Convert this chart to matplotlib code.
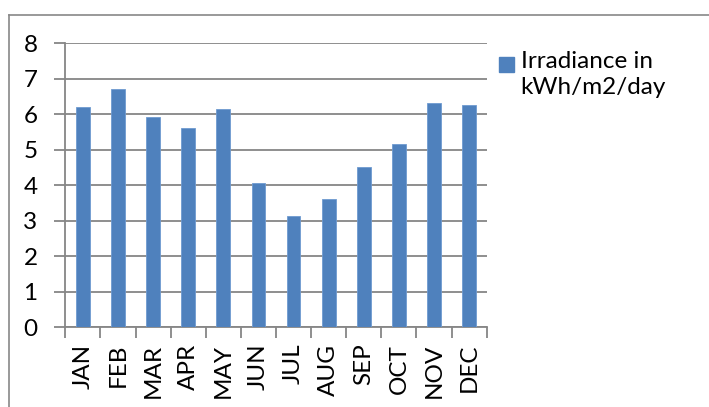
import matplotlib
matplotlib.use("Agg")
import matplotlib.pyplot as plt
from matplotlib.lines import Line2D

months = ["JAN", "FEB", "MAR", "APR", "MAY", "JUN", "JUL", "AUG", "SEP", "OCT", "NOV", "DEC"]
irradiance = [6.19, 6.72, 5.92, 5.61, 6.16, 4.05, 3.14, 3.60, 4.51, 5.17, 6.33, 6.27]
series_label = "Irradiance in\nkWh/m2/day"
yticks = [0, 1, 2, 3, 4, 5, 6, 7, 8]

plt.rcParams['font.family'] = ['Lato', 'DejaVu Sans']
W, H = 709, 407
fig = plt.figure(figsize=(W / 100, H / 100), dpi=100)
left, right, top, bottom = 65.3, 486.7, 43.3, 327.0
ax = fig.add_axes([left / W, 1 - bottom / H, (right - left) / W, (bottom - top) / H])

grid_c = "#868686"
bar_c = "#4F81BD"
fs = 17.5
x = list(range(len(months)))
ax.bar(x, irradiance, width=0.39, color=bar_c, edgecolor="#6F9AD0", linewidth=0.6, zorder=3,
       label=series_label)
ax.set_xlim(-0.5, len(months) - 0.5)
ax.set_ylim(0, 8)
ax.set_yticks(yticks)
ax.yaxis.grid(True, color=grid_c, linewidth=1.3, zorder=0)
ax.set_xticks(x)
ax.set_xticklabels(months, rotation=90, fontsize=fs)
ax.tick_params(axis='x', length=0, pad=12)
ax.set_xticks([i - 0.5 for i in range(len(months) + 1)], minor=True)
ax.tick_params(axis='x', which='minor', length=8, width=1.3, color=grid_c)
ax.tick_params(axis='y', length=8, width=1.3, color=grid_c, labelsize=fs, pad=12)
for s in ['top', 'right']:
    ax.spines[s].set_visible(False)
for s in ['left', 'bottom']:
    ax.spines[s].set_color(grid_c)
    ax.spines[s].set_linewidth(1.3)

# legend
fig.patches.append(plt.Rectangle((499.3 / W, 1 - 71.7 / H), 14.4 / W, 14.4 / H,
                                 transform=fig.transFigure, color=bar_c, figure=fig))
fig.text(520.7 / W, 1 - 51 / H, series_label, fontsize=fs, va='top', ha='left',
         linespacing=1.3)

# outer frame
fig.add_artist(Line2D([9.3 / W, 9.3 / W], [0, 1 - 14.7 / H], transform=fig.transFigure,
                      color="#888888", linewidth=1.2))
fig.add_artist(Line2D([9.3 / W, 1], [1 - 14.7 / H, 1 - 14.7 / H], transform=fig.transFigure,
                      color="#888888", linewidth=1.2))

fig.savefig("out.png", dpi=100)
